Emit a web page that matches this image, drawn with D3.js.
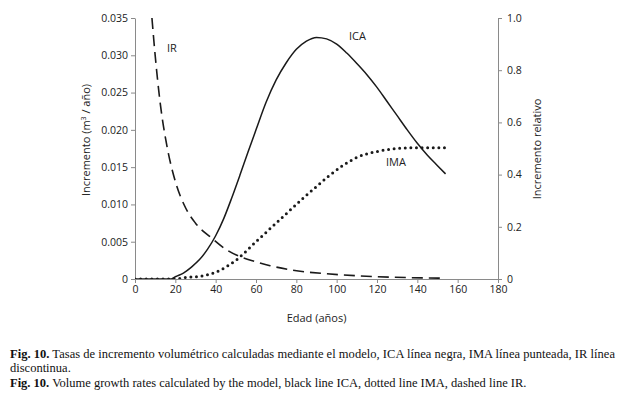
<!DOCTYPE html>
<html>
<head>
<meta charset="utf-8">
<script src="https://cdn.jsdelivr.net/npm/d3@7"></script>
<style>
  body { margin: 0; background: #fff; }
  svg { display: block; }
  .axis text { font-family: "Open Sans", sans-serif; font-size: 10.5px; fill: #222; }
  .axis path, .axis line { stroke: #8a8a8a; }
  .lab { font-family: "Open Sans", sans-serif; font-size: 11px; fill: #222; }
  .cap { font-family: "Liberation Serif", serif; font-size: 12.5px; fill: #111; }
</style>
</head>
<body>
<svg id="chart" width="622" height="398"></svg>
<script>
// ICA: current annual increment (m3/year)
const icaAges   = [0, 10, 18, 20, 24, 28, 32, 36, 40, 44, 48, 52, 56, 60, 65, 70, 75, 80, 85, 90, 95, 100, 105, 110, 115, 120, 125, 130, 135, 140, 145, 150, 154];
const icaValues = [0, 0, 0, 0.0003, 0.0008, 0.0016, 0.0026, 0.0040, 0.0058, 0.0081, 0.0109, 0.0139, 0.0170, 0.0200, 0.0237, 0.0267, 0.0290, 0.0308, 0.0319, 0.0324, 0.0322, 0.0315, 0.0303, 0.0289, 0.0274, 0.0257, 0.0238, 0.0219, 0.0200, 0.0182, 0.0166, 0.0152, 0.0141];

// IMA: mean annual increment (m3/year)
const imaAges   = [0, 10, 20, 25, 30, 35, 40, 45, 50, 55, 60, 66, 72, 78, 84, 90, 96, 103, 110, 120, 130, 140, 155];
const imaValues = [0, 0, 0, 0.0002, 0.0003, 0.0005, 0.0009, 0.0016, 0.0025, 0.0037, 0.0050, 0.0065, 0.0080, 0.0095, 0.0110, 0.0124, 0.0138, 0.0152, 0.0163, 0.0171, 0.0175, 0.0176, 0.0176];

// IR: relative increment (right axis)
const irAges   = [8.4, 10, 12.5, 16, 20, 25, 30, 38, 45, 52, 60, 67, 78, 95, 120, 154];
const irValues = [1.0, 0.857, 0.674, 0.503, 0.374, 0.274, 0.214, 0.157, 0.114, 0.086, 0.066, 0.051, 0.034, 0.020, 0.009, 0.003];

const leftTicks  = [0, 0.005, 0.010, 0.015, 0.020, 0.025, 0.030, 0.035];
const rightTicks = [0, 0.2, 0.4, 0.6, 0.8, 1.0];
const ageTicks   = [0, 20, 40, 60, 80, 100, 120, 140, 160, 180];

const svg = d3.select('#chart');
const margin = { left: 135, right: 124, top: 18, bottom: 119 };
const width = 622, height = 398;

const x = d3.scaleLinear().domain([0, 180]).range([margin.left, width - margin.right]);
const yL = d3.scaleLinear().domain([0, 0.035]).range([height - margin.bottom, margin.top]);
const yR = d3.scaleLinear().domain([0, 1]).range([height - margin.bottom, margin.top]);

svg.append('defs').append('clipPath').attr('id', 'plot')
  .append('rect')
  .attr('x', margin.left).attr('y', margin.top)
  .attr('width', x(180) - x(0)).attr('height', yL(0) - yL(0.035));

// axes
svg.append('g').attr('class', 'axis')
  .attr('transform', `translate(0,${yL(0)})`)
  .call(d3.axisBottom(x).tickValues(ageTicks).tickSize(4).tickSizeOuter(0).tickPadding(3));

svg.append('g').attr('class', 'axis')
  .attr('transform', `translate(${margin.left},0)`)
  .call(d3.axisLeft(yL).tickValues(leftTicks).tickSize(4).tickSizeOuter(0).tickPadding(3)
    .tickFormat(d => d === 0 ? '0' : d3.format('.3f')(d)));

svg.append('g').attr('class', 'axis')
  .attr('transform', `translate(${x(180)},0)`)
  .call(d3.axisRight(yR).tickValues(rightTicks).tickSize(4).tickSizeOuter(0).tickPadding(5)
    .tickFormat(d => d === 0 ? '0' : d3.format('.1f')(d)));

// axis titles
svg.append('text').attr('class', 'lab')
  .attr('x', (x(0) + x(180)) / 2).attr('y', 322)
  .attr('text-anchor', 'middle').text('Edad (años)');

svg.append('text').attr('class', 'lab')
  .attr('transform', 'translate(90,140) rotate(-90)')
  .attr('text-anchor', 'middle')
  .html('Incremento (m<tspan font-size="7" dy="-4">3</tspan><tspan dy="4"> / año)</tspan>');

svg.append('text').attr('class', 'lab')
  .attr('transform', 'translate(541,149) rotate(-90)')
  .attr('text-anchor', 'middle').text('Incremento relativo');

// lines
const plot = svg.append('g').attr('clip-path', 'url(#plot)');

const lineL = d3.line().x(d => x(d[0])).y(d => yL(d[1])).curve(d3.curveMonotoneX);
const lineR = d3.line().x(d => x(d[0])).y(d => yR(d[1])).curve(d3.curveMonotoneX);

plot.append('path')
  .datum(d3.zip(icaAges, icaValues))
  .attr('d', lineL)
  .attr('fill', 'none').attr('stroke', '#1a1a1a').attr('stroke-width', 1.5);

plot.append('path')
  .datum(d3.zip(imaAges, imaValues))
  .attr('d', lineL)
  .attr('fill', 'none').attr('stroke', '#1a1a1a').attr('stroke-width', 3)
  .attr('stroke-linecap', 'round').attr('stroke-dasharray', '0 5.6');

plot.append('path')
  .datum(d3.zip(irAges, irValues))
  .attr('d', lineR)
  .attr('fill', 'none').attr('stroke', '#1a1a1a').attr('stroke-width', 1.6)
  .attr('stroke-dasharray', '11 6');

// series labels
svg.append('text').attr('class', 'lab').attr('x', 167).attr('y', 52).text('IR');
svg.append('text').attr('class', 'lab').attr('x', 349).attr('y', 40).text('ICA');
svg.append('text').attr('class', 'lab').attr('x', 386).attr('y', 166).text('IMA');

// caption
const cap = svg.append('g').attr('class', 'cap');
const l1 = cap.append('text').attr('x', 10).attr('y', 358)
  .attr('textLength', 605).attr('lengthAdjust', 'spacing');
l1.append('tspan').attr('font-weight', 'bold').text('Fig. 10.');
l1.append('tspan').text(' Tasas de incremento volumétrico calculadas mediante el modelo, ICA línea negra, IMA línea punteada, IR línea');
cap.append('text').attr('x', 10).attr('y', 372).text('discontinua.');
const l3 = cap.append('text').attr('x', 10).attr('y', 387);
l3.append('tspan').attr('font-weight', 'bold').text('Fig. 10.');
l3.append('tspan').text(' Volume growth rates calculated by the model, black line ICA, dotted line IMA, dashed line IR.');
</script>
</body>
</html>
